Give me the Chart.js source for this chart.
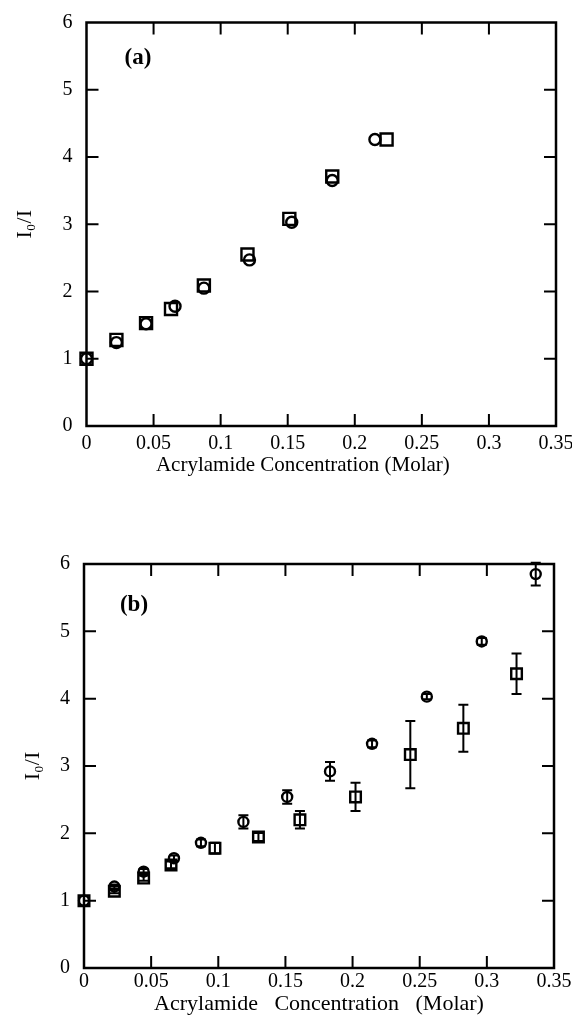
<!DOCTYPE html>
<html>
<head>
<meta charset="utf-8">
<script src="https://cdn.jsdelivr.net/npm/chart.js@4.4.1/dist/chart.umd.min.js"></script>
<style>
body{margin:0;background:#fff;width:572px;height:1023px;overflow:hidden;position:relative}
.box{position:absolute;left:0;width:572px}
</style>
</head>
<body>
<div class="box" style="top:0;height:478px"><canvas id="chartA"></canvas></div>
<div class="box" style="top:478px;height:545px"><canvas id="chartB"></canvas></div>
<script>
// tick labels shared by both panels
let xTickLabels = ['0', '0.05', '0.1', '0.15', '0.2', '0.25', '0.3', '0.35'];
let yTickLabels = ['0', '1', '2', '3', '4', '5', '6'];

// panel (a)
let concA_circ = [0, 0.0223, 0.0444, 0.066, 0.0875, 0.1215, 0.153, 0.1832, 0.215];
let ratioA_circ = [1.0, 1.24, 1.52, 1.78, 2.05, 2.47, 3.03, 3.65, 4.26];
let concA_sq = [0, 0.0223, 0.0444, 0.063, 0.0875, 0.12, 0.1512, 0.1832, 0.2237];
let ratioA_sq = [1.0, 1.28, 1.53, 1.74, 2.09, 2.55, 3.08, 3.71, 4.26];

// panel (b)
let concB_circ = [0, 0.0226, 0.0444, 0.067, 0.0871, 0.1187, 0.1513, 0.1832, 0.2145, 0.2553, 0.2962, 0.3364];
let ratioB_circ = [1.0, 1.21, 1.43, 1.63, 1.86, 2.17, 2.54, 2.92, 3.33, 4.03, 4.85, 5.85];
let errB_circ = [0, 0.03, 0.04, 0.04, 0.05, 0.1, 0.1, 0.14, 0.05, 0.04, 0.05, 0.17];
let concB_sq = [0, 0.0226, 0.0444, 0.0648, 0.0975, 0.1299, 0.1608, 0.2022, 0.243, 0.2825, 0.3221];
let ratioB_sq = [1.0, 1.14, 1.335, 1.53, 1.78, 1.945, 2.2, 2.54, 3.17, 3.56, 4.37];
let errB_sq = [0, 0.03, 0.04, 0.05, 0.08, 0.06, 0.13, 0.21, 0.5, 0.35, 0.3];

const serif = "'Liberation Serif', 'Times New Roman', serif";

function pts(xs, ys) {
    return xs.map((x, i) => ({x: x, y: ys[i]}));
}

// frame, inward ticks, error bars and panel letter
const decor = {
    id: 'decor',
    afterDatasetsDraw(chart) {
        let ctx = chart.ctx;
        let a = chart.chartArea;
        let xs = chart.scales.x, ys = chart.scales.y;
        ctx.save();
        ctx.strokeStyle = '#000';
        ctx.lineWidth = 2;

        // error bars
        chart.data.datasets.forEach(ds => {
            if (!ds.errs) return;
            ds.data.forEach((p, i) => {
                let e = ds.errs[i];
                if (!e) return;
                let px = xs.getPixelForValue(p.x);
                let y1 = ys.getPixelForValue(p.y + e);
                let y2 = ys.getPixelForValue(p.y - e);
                ctx.beginPath();
                ctx.moveTo(px, y1); ctx.lineTo(px, y2);
                ctx.moveTo(px - 5, y1); ctx.lineTo(px + 5, y1);
                ctx.moveTo(px - 5, y2); ctx.lineTo(px + 5, y2);
                ctx.stroke();
            });
        });

        // inward ticks
        let tl = 12;
        ctx.beginPath();
        xs.ticks.forEach(t => {
            let px = xs.getPixelForValue(t.value);
            if (px <= a.left + 1 || px >= a.right - 1) return;
            ctx.moveTo(px, a.bottom); ctx.lineTo(px, a.bottom - tl);
            ctx.moveTo(px, a.top); ctx.lineTo(px, a.top + tl);
        });
        ys.ticks.forEach(t => {
            let py = ys.getPixelForValue(t.value);
            if (py <= a.top + 1 || py >= a.bottom - 1) return;
            ctx.moveTo(a.left, py); ctx.lineTo(a.left + tl, py);
            ctx.moveTo(a.right, py); ctx.lineTo(a.right - tl, py);
        });
        ctx.stroke();

        ctx.lineWidth = 2.5;
        ctx.strokeRect(a.left, a.top, a.right - a.left, a.bottom - a.top);

        let lab = chart.options.plugins.decor;
        ctx.fillStyle = '#000';
        ctx.font = 'bold 23px ' + serif;
        ctx.textAlign = 'center';
        ctx.textBaseline = 'middle';
        ctx.fillText(lab.text, a.left + lab.dx, a.top + lab.dy);
        ctx.restore();
    }
};

function makeChart(id, cfg) {
    return new Chart(document.getElementById(id), {
        type: 'scatter',
        data: {
            datasets: [{
                data: pts(cfg.sqX, cfg.sqY),
                errs: cfg.sqErr,
                pointStyle: 'rect',
                pointRadius: cfg.sqR,
                borderColor: '#000',
                backgroundColor: 'rgba(0,0,0,0)',
                borderWidth: 2.4,
                clip: false
            }, {
                data: pts(cfg.ciX, cfg.ciY),
                errs: cfg.ciErr,
                pointStyle: 'circle',
                pointRadius: cfg.ciR,
                borderColor: '#000',
                backgroundColor: 'rgba(0,0,0,0)',
                borderWidth: 2.4,
                clip: false
            }]
        },
        options: {
            responsive: true,
            maintainAspectRatio: false,
            animation: false,
            events: [],
            layout: {padding: {left: 0, right: cfg.padRight, top: cfg.padTop, bottom: cfg.padBottom}},
            plugins: {
                legend: {display: false},
                tooltip: {enabled: false},
                decor: {text: cfg.label, dx: cfg.labelDx, dy: cfg.labelDy}
            },
            scales: {
                x: {
                    type: 'linear',
                    min: 0, max: 0.35,
                    grid: {display: false, drawTicks: false},
                    border: {display: false},
                    ticks: {
                        stepSize: 0.05,
                        autoSkip: false,
                        maxRotation: 0,
                        padding: cfg.xTickPad,
                        color: '#000',
                        font: {family: serif, size: 20},
                        callback: (v, i) => xTickLabels[i]
                    },
                    title: {
                        display: true,
                        text: cfg.xTitle,
                        color: '#000',
                        padding: 0,
                        font: {family: serif, size: cfg.xTitleSize}
                    },
                    afterFit: s => { s.height = cfg.xHeight; s.paddingLeft = 0; s.paddingRight = 0; }
                },
                y: {
                    min: 0, max: 6,
                    grid: {display: false, drawTicks: false},
                    border: {display: false},
                    ticks: {
                        stepSize: 1,
                        padding: 14,
                        color: '#000',
                        font: {family: serif, size: 20},
                        callback: (v, i) => yTickLabels[i]
                    },
                    title: {
                        display: true,
                        text: 'I\u2080/I',
                        color: '#000',
                        padding: {top: cfg.yTitlePad, bottom: 0},
                        font: {family: serif, size: 22}
                    },
                    afterFit: s => { s.width = cfg.yWidth; s.paddingTop = 0; s.paddingBottom = 0; }
                }
            }
        },
        plugins: [decor]
    });
}

makeChart('chartA', {
    sqX: concA_sq, sqY: ratioA_sq, sqErr: null, sqR: 8.5,
    ciX: concA_circ, ciY: ratioA_circ, ciErr: null, ciR: 5.5,
    padRight: 16, padTop: 22.5, padBottom: 0,
    xHeight: 52, yWidth: 86.5, xTickPad: 6, yTitlePad: 12,
    xTitle: 'Acrylamide Concentration (Molar)\u00a0\u00a0\u00a0\u00a0\u00a0\u00a0\u00a0',
    xTitleSize: 21,
    label: '(a)', labelDx: 51.5, labelDy: 36
});

makeChart('chartB', {
    sqX: concB_sq, sqY: ratioB_sq, sqErr: errB_sq, sqR: 7.5,
    ciX: concB_circ, ciY: ratioB_circ, ciErr: errB_circ, ciR: 5,
    padRight: 18, padTop: 86, padBottom: 6,
    xHeight: 49, yWidth: 84, xTickPad: 2, yTitlePad: 20,
    xTitle: 'Acrylamide   Concentration   (Molar)',
    xTitleSize: 22,
    label: '(b)', labelDx: 50, labelDy: 41
});
</script>
</body>
</html>
